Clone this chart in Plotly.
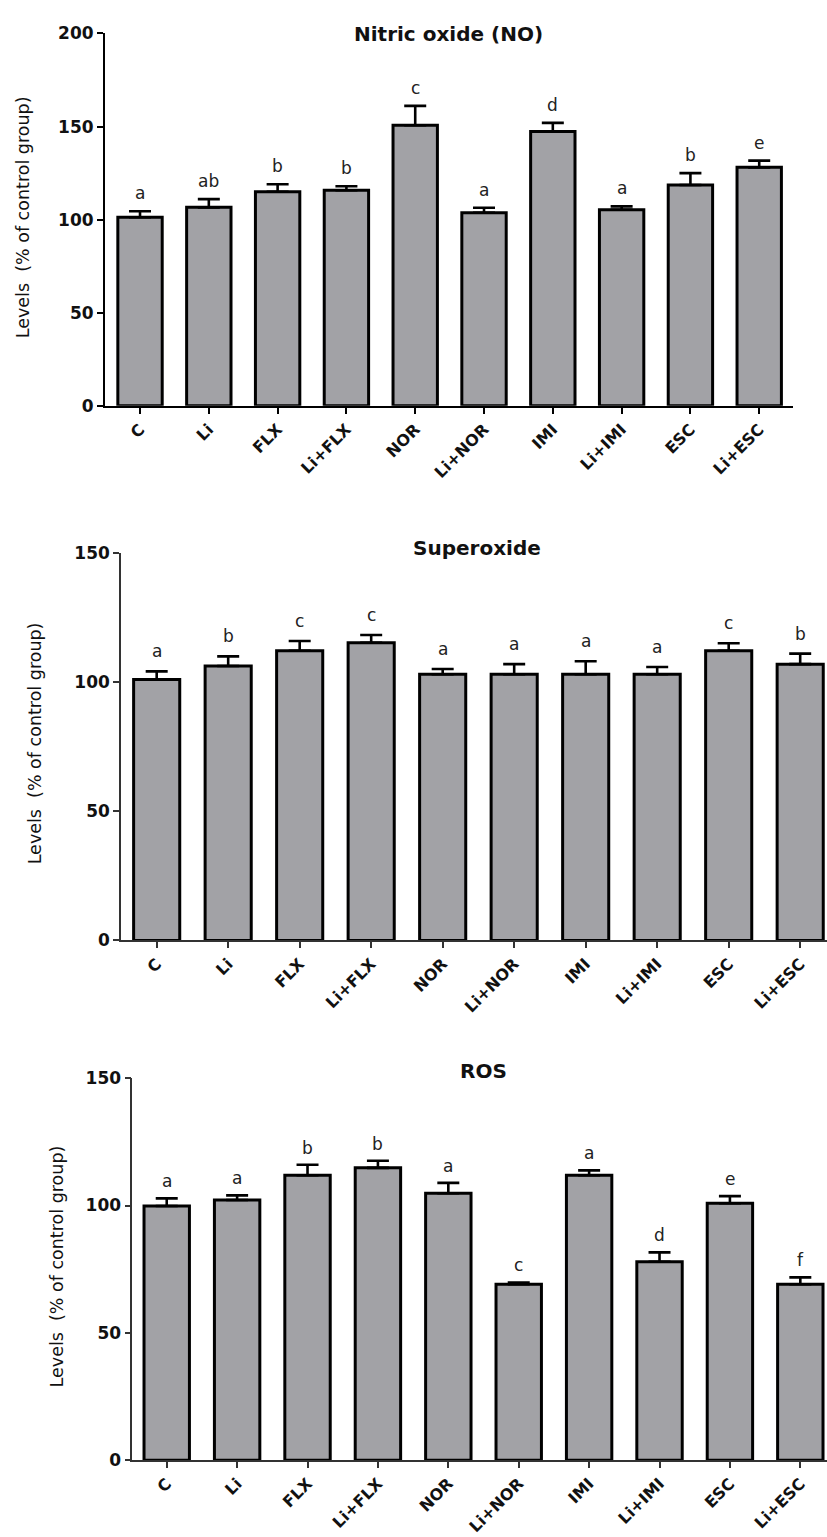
import plotly.graph_objects as go

W, H = 827, 1537

categories = ["C", "Li", "FLX", "Li+FLX", "NOR", "Li+NOR", "IMI", "Li+IMI", "ESC", "Li+ESC"]

no_mean = [101.3, 106.6, 115.0, 115.8, 150.7, 103.7, 147.3, 105.3, 118.6, 128.1]
no_sem = [3.2, 4.4, 4.0, 2.1, 10.4, 2.7, 4.7, 1.8, 6.4, 3.6]
no_letters = ["a", "ab", "b", "b", "c", "a", "d", "a", "b", "e"]

sup_mean = [101.1, 106.3, 112.2, 115.3, 103.1, 103.1, 103.1, 103.1, 112.2, 107.0]
sup_sem = [3.1, 3.7, 3.8, 3.0, 2.0, 3.9, 5.0, 2.8, 2.9, 4.1]
sup_letters = ["a", "b", "c", "c", "a", "a", "a", "a", "c", "b"]

ros_mean = [99.8, 102.2, 111.9, 114.8, 104.8, 69.1, 111.9, 77.9, 100.9, 69.1]
ros_sem = [3.0, 1.8, 4.1, 2.8, 4.1, 0.7, 1.9, 3.7, 2.8, 2.7]
ros_letters = ["a", "a", "b", "b", "a", "c", "a", "d", "e", "f"]

y_title = "Levels  (% of control group)"
panels = [
    dict(title="Nitric oxide (NO)", mean=no_mean, sem=no_sem, letters=no_letters,
         ymax=200, yticks=[0, 50, 100, 150, 200],
         xpx=(105, 793), xrange=[-0.509, 9.491], ypx=(401, 23.8),
         title_pos=(448, 24), ytitle_pos=(23, 210), lshift=6,
         axcolor="black", axw=2),
    dict(title="Superoxide", mean=sup_mean, sem=sup_sem, letters=sup_letters,
         ymax=150, yticks=[0, 50, 100, 150],
         xpx=(121, 827), xrange=[-0.499, 9.375], ypx=(942.7, 550.3),
         title_pos=(477.5, 545), ytitle_pos=(35, 743), lshift=8,
         axcolor="#333333", axw=1.6),
    dict(title="ROS", mean=ros_mean, sem=ros_sem, letters=ros_letters,
         ymax=150, yticks=[0, 50, 100, 150],
         xpx=(132.3, 827), xrange=[-0.489, 9.379], ypx=(1469.3, 1082.3),
         title_pos=(483, 1075), ytitle_pos=(57, 1273), lshift=5,
         axcolor="#333333", axw=1.6),
]

FONT = "DejaVu Sans"
fig = go.Figure()
annotations = []
layout = dict(
    width=W, height=H, margin=dict(l=0, r=0, t=0, b=0),
    paper_bgcolor="white", plot_bgcolor="white", showlegend=False,
    font=dict(family=FONT, color="black"),
)

for i, p in enumerate(panels):
    n = "" if i == 0 else str(i + 1)
    xa, ya = "x" + n, "y" + n
    fig.add_trace(go.Bar(
        x=categories, y=p["mean"], xaxis=xa, yaxis=ya, width=0.645,
        marker=dict(color="#a2a2a6", line=dict(color="black", width=3)),
        error_y=dict(type="data", symmetric=False, array=p["sem"],
                     arrayminus=[0] * len(p["sem"]), color="black",
                     thickness=2.6, width=11),
        hoverinfo="skip",
    ))
    layout["xaxis" + n] = dict(
        domain=[p["xpx"][0] / W, p["xpx"][1] / W], range=p["xrange"],
        anchor=ya, type="category", showline=True, linecolor=p["axcolor"],
        linewidth=p["axw"], ticks="outside", ticklen=6, tickwidth=p["axw"],
        tickcolor=p["axcolor"], tickangle=-45, showgrid=False, zeroline=False,
        tickfont=dict(family=FONT, size=16, weight="bold", color="#111"),
        fixedrange=True,
    )
    layout["yaxis" + n] = dict(
        domain=[1 - p["ypx"][0] / H, 1 - p["ypx"][1] / H], range=[0, p["ymax"]],
        anchor=xa, showline=True, linecolor=p["axcolor"], linewidth=p["axw"],
        ticks="outside", ticklen=6, tickwidth=p["axw"], tickcolor=p["axcolor"],
        tickvals=p["yticks"], showgrid=False, zeroline=False,
        tickfont=dict(family=FONT, size=17, weight="bold", color="#111"),
        fixedrange=True,
    )
    for c, m, s, l in zip(categories, p["mean"], p["sem"], p["letters"]):
        annotations.append(dict(
            x=c, y=m + s, xref=xa, yref=ya, text=l, showarrow=False,
            yanchor="bottom", yshift=p["lshift"],
            font=dict(family=FONT, size=17, color="#222"),
        ))
    annotations.append(dict(
        x=p["title_pos"][0] / W, y=1 - p["title_pos"][1] / H, xref="paper", yref="paper",
        text=p["title"], showarrow=False, xanchor="center", yanchor="middle",
        font=dict(family=FONT, size=20, weight="bold", color="#111"),
    ))
    annotations.append(dict(
        x=p["ytitle_pos"][0] / W, y=1 - p["ytitle_pos"][1] / H, xref="paper", yref="paper",
        text=y_title, showarrow=False, textangle=-90, xanchor="center", yanchor="middle",
        font=dict(family=FONT, size=17.5, color="#111"),
    ))

layout["annotations"] = annotations
fig.update_layout(**layout)
fig.write_html("out.html")
